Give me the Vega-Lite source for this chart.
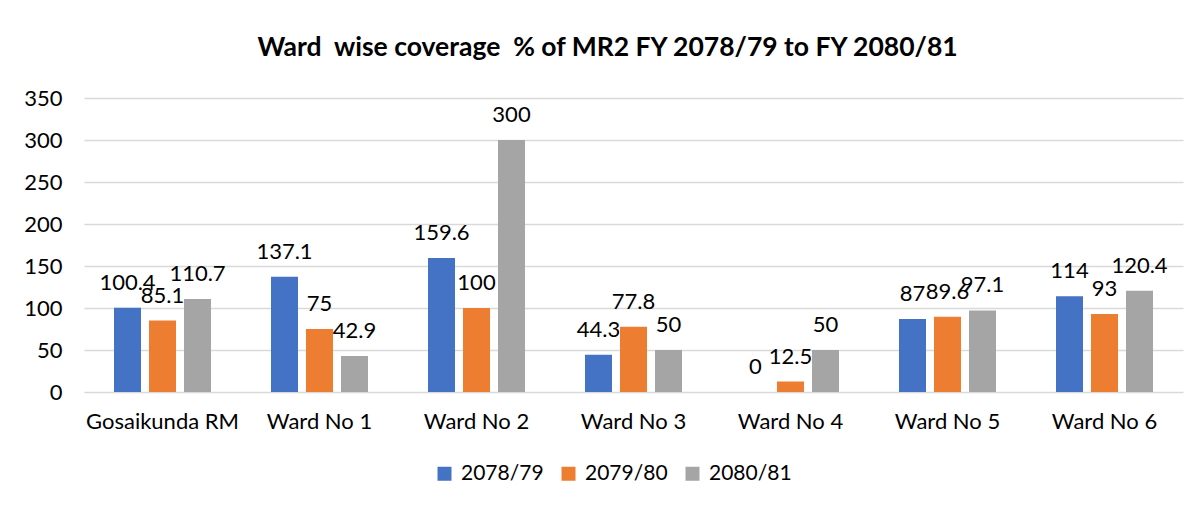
{
  "$schema": "https://vega.github.io/schema/vega-lite/v6.json",
  "width": 1099,
  "height": 294,
  "autosize": {"type": "none"},
  "padding": {"left": 84, "top": 98, "right": 17, "bottom": 114},
  "background": "white",
  "config": {
    "view": {"stroke": null},
    "font": "Lato",
    "text": {"font": "Lato"}
  },
  "title": {
    "text": "Ward\u00a0 wise coverage\u00a0 % of MR2 FY 2078/79 to FY 2080/81",
    "font": "Lato",
    "fontSize": 26.5,
    "fontWeight": "bold",
    "color": "#000000",
    "anchor": "middle",
    "dx": -26,
    "baseline": "alphabetic",
    "offset": 5
  },
  "data": {
    "values": [
      {"ward": "Gosaikunda RM", "year": "2078/79", "value": 100.4},
      {"ward": "Gosaikunda RM", "year": "2079/80", "value": 85.1},
      {"ward": "Gosaikunda RM", "year": "2080/81", "value": 110.7},
      {"ward": "Ward No 1", "year": "2078/79", "value": 137.1},
      {"ward": "Ward No 1", "year": "2079/80", "value": 75},
      {"ward": "Ward No 1", "year": "2080/81", "value": 42.9},
      {"ward": "Ward No 2", "year": "2078/79", "value": 159.6},
      {"ward": "Ward No 2", "year": "2079/80", "value": 100},
      {"ward": "Ward No 2", "year": "2080/81", "value": 300},
      {"ward": "Ward No 3", "year": "2078/79", "value": 44.3},
      {"ward": "Ward No 3", "year": "2079/80", "value": 77.8},
      {"ward": "Ward No 3", "year": "2080/81", "value": 50},
      {"ward": "Ward No 4", "year": "2078/79", "value": 0},
      {"ward": "Ward No 4", "year": "2079/80", "value": 12.5},
      {"ward": "Ward No 4", "year": "2080/81", "value": 50},
      {"ward": "Ward No 5", "year": "2078/79", "value": 87},
      {"ward": "Ward No 5", "year": "2079/80", "value": 89.6},
      {"ward": "Ward No 5", "year": "2080/81", "value": 97.1},
      {"ward": "Ward No 6", "year": "2078/79", "value": 114},
      {"ward": "Ward No 6", "year": "2079/80", "value": 93},
      {"ward": "Ward No 6", "year": "2080/81", "value": 120.4}
    ]
  },
  "encoding": {
    "x": {
      "field": "ward",
      "type": "nominal",
      "sort": null,
      "title": null,
      "scale": {"paddingInner": 0, "paddingOuter": 0},
      "axis": {
        "labelAngle": 0,
        "labelFontSize": 22,
        "labelFont": "Lato",
        "labelColor": "#000000",
        "labelPadding": 19,
        "domain": false,
        "ticks": false,
        "grid": false
      }
    },
    "xOffset": {
      "field": "year",
      "type": "nominal",
      "sort": null,
      "scale": {"paddingInner": 0.2286, "paddingOuter": 0.857}
    },
    "y": {
      "field": "value",
      "type": "quantitative",
      "title": null,
      "scale": {"domain": [0, 350], "nice": false},
      "axis": {
        "values": [0, 50, 100, 150, 200, 250, 300, 350],
        "labelFontSize": 22,
        "labelFont": "Lato",
        "labelColor": "#000000",
        "labelPadding": 22,
        "domain": false,
        "ticks": false,
        "grid": true,
        "gridColor": "#d9d9d9",
        "gridWidth": 1.5
      }
    }
  },
  "layer": [
    {
      "mark": {"type": "bar"},
      "encoding": {
        "color": {
          "field": "year",
          "type": "nominal",
          "sort": null,
          "scale": {
            "domain": ["2078/79", "2079/80", "2080/81"],
            "range": ["#4472C4", "#ED7D31", "#A5A5A5"]
          },
          "legend": {
            "title": null,
            "orient": "none",
            "legendX": 350,
            "legendY": 365,
            "direction": "horizontal",
            "symbolType": "square",
            "symbolSize": 196,
            "symbolStrokeWidth": 0,
            "symbolOpacity": 1,
            "labelFontSize": 21,
            "labelFont": "Lato",
            "labelColor": "#000000",
            "labelOffset": 6,
            "columnPadding": 14
          }
        }
      }
    },
    {
      "mark": {"type": "text", "baseline": "alphabetic", "dy": -18, "fontSize": 22, "font": "Lato", "color": "#000000"},
      "encoding": {
        "text": {"field": "value", "type": "quantitative", "format": "~g"}
      }
    }
  ]
}
